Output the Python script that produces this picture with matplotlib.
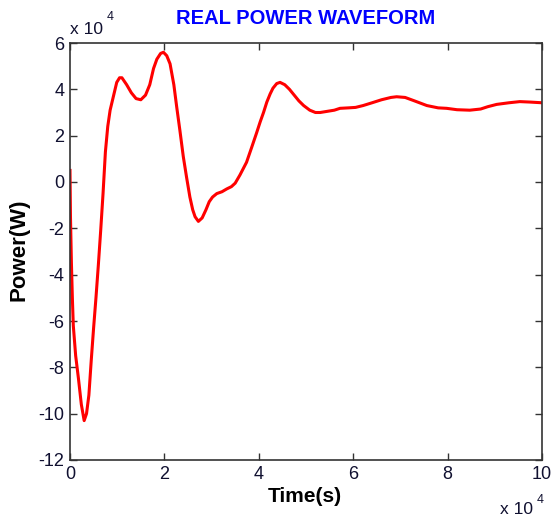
import matplotlib
matplotlib.use("Agg")
import matplotlib.pyplot as plt

# time and power, both in units of 1e4 (axes carry "x 10^4" multipliers)
time_s = [0.00, 0.01, 0.03, 0.05, 0.07, 0.12, 0.18, 0.24, 0.30, 0.35, 0.40,
          0.45, 0.50, 0.55, 0.60, 0.65, 0.70, 0.75, 0.80, 0.85, 0.92, 0.99,
          1.05, 1.10, 1.20, 1.30, 1.40, 1.50, 1.60, 1.69, 1.77, 1.84, 1.92,
          1.98, 2.05, 2.12, 2.20, 2.26, 2.33, 2.40, 2.47, 2.54, 2.60, 2.65,
          2.72, 2.80, 2.88, 2.95, 3.02, 3.11, 3.22, 3.32, 3.42, 3.50, 3.60,
          3.74, 3.85, 3.95, 4.03, 4.10, 4.17, 4.24, 4.30, 4.38, 4.45, 4.55,
          4.65, 4.75, 4.85, 4.95, 5.08, 5.20, 5.30, 5.45, 5.60, 5.72, 5.90,
          6.05, 6.21, 6.40, 6.60, 6.80, 6.92, 7.10, 7.30, 7.56, 7.80, 7.98,
          8.20, 8.47, 8.70, 8.85, 9.04, 9.30, 9.53, 9.75, 10.0]
power_w = [0.5, -1.5, -3.5, -5.0, -6.2, -7.5, -8.5, -9.6, -10.3, -10.0, -9.2,
           -7.7, -6.3, -5.0, -3.6, -2.1, -0.5, 1.3, 2.4, 3.1, 3.7, 4.3,
           4.5, 4.5, 4.2, 3.85, 3.6, 3.55, 3.75, 4.2, 4.9, 5.3, 5.55,
           5.6, 5.45, 5.1, 4.2, 3.25, 2.2, 1.1, 0.2, -0.65, -1.2, -1.5,
           -1.7, -1.55, -1.2, -0.85, -0.65, -0.5, -0.42, -0.3, -0.2, -0.05, 0.3,
           0.85, 1.5, 2.1, 2.6, 3.0, 3.45, 3.8, 4.05, 4.25, 4.3, 4.2,
           4.0, 3.75, 3.5, 3.3, 3.1, 3.0, 3.0, 3.05, 3.1, 3.18, 3.2,
           3.22, 3.3, 3.42, 3.55, 3.65, 3.68, 3.65, 3.5, 3.3, 3.2, 3.18,
           3.12, 3.1, 3.15, 3.25, 3.35, 3.42, 3.47, 3.45, 3.42]

x_ticks = [0, 2, 4, 6, 8, 10]
y_ticks = [-12, -10, -8, -6, -4, -2, 0, 2, 4, 6]

plt.rcParams["font.family"] = ["Liberation Sans", "DejaVu Sans"]
plt.rcParams["axes.unicode_minus"] = False

W, H = 552, 522
TXT = "#101030"
fig = plt.figure(figsize=(W / 100, H / 100), dpi=100)
fig.patch.set_facecolor("white")

# axes box in pixels: left 70, right 542, top 43, bottom 460
ax = fig.add_axes([70 / W, 1 - 460 / H, (542 - 70) / W, (460 - 43) / H])
ax.plot(time_s, power_w, color="red", lw=2.2, solid_joinstyle="round")

ax.set_xlim(0, 10)
ax.set_ylim(-12, 6)
ax.set_xticks(x_ticks)
ax.set_yticks(y_ticks)
ax.tick_params(direction="in", length=5, width=1, top=True, right=True,
               labelsize=13, labelcolor=TXT, color="#333333", pad=4)
for sp in ax.spines.values():
    sp.set_color("#333333")
    sp.set_linewidth(1.2)

# labels
fig.text(306 / W, 1 - 19 / H, "REAL POWER WAVEFORM", ha="center", va="center",
         fontsize=14.5, fontweight="bold", color="#0000ff")
fig.text(19 / W, 1 - 250 / H, "Power(W)", ha="center", va="center",
         rotation=90, fontsize=16, fontweight="bold", color="black")
fig.text(305 / W, 1 - 496 / H, "Time(s)", ha="center", va="center",
         fontsize=15, fontweight="bold", color="black")

# multipliers
fig.text(70 / W, 1 - 29 / H, "x 10", ha="left", va="center",
         fontsize=12.5, color=TXT)
fig.text(107 / W, 1 - 17 / H, "4", ha="left", va="center",
         fontsize=9, color=TXT)
fig.text(500 / W, 1 - 510 / H, "x 10", ha="left", va="center",
         fontsize=12.5, color=TXT)
fig.text(537 / W, 1 - 500 / H, "4", ha="left", va="center",
         fontsize=9, color=TXT)

fig.savefig("out.png", dpi=100, facecolor="white")
